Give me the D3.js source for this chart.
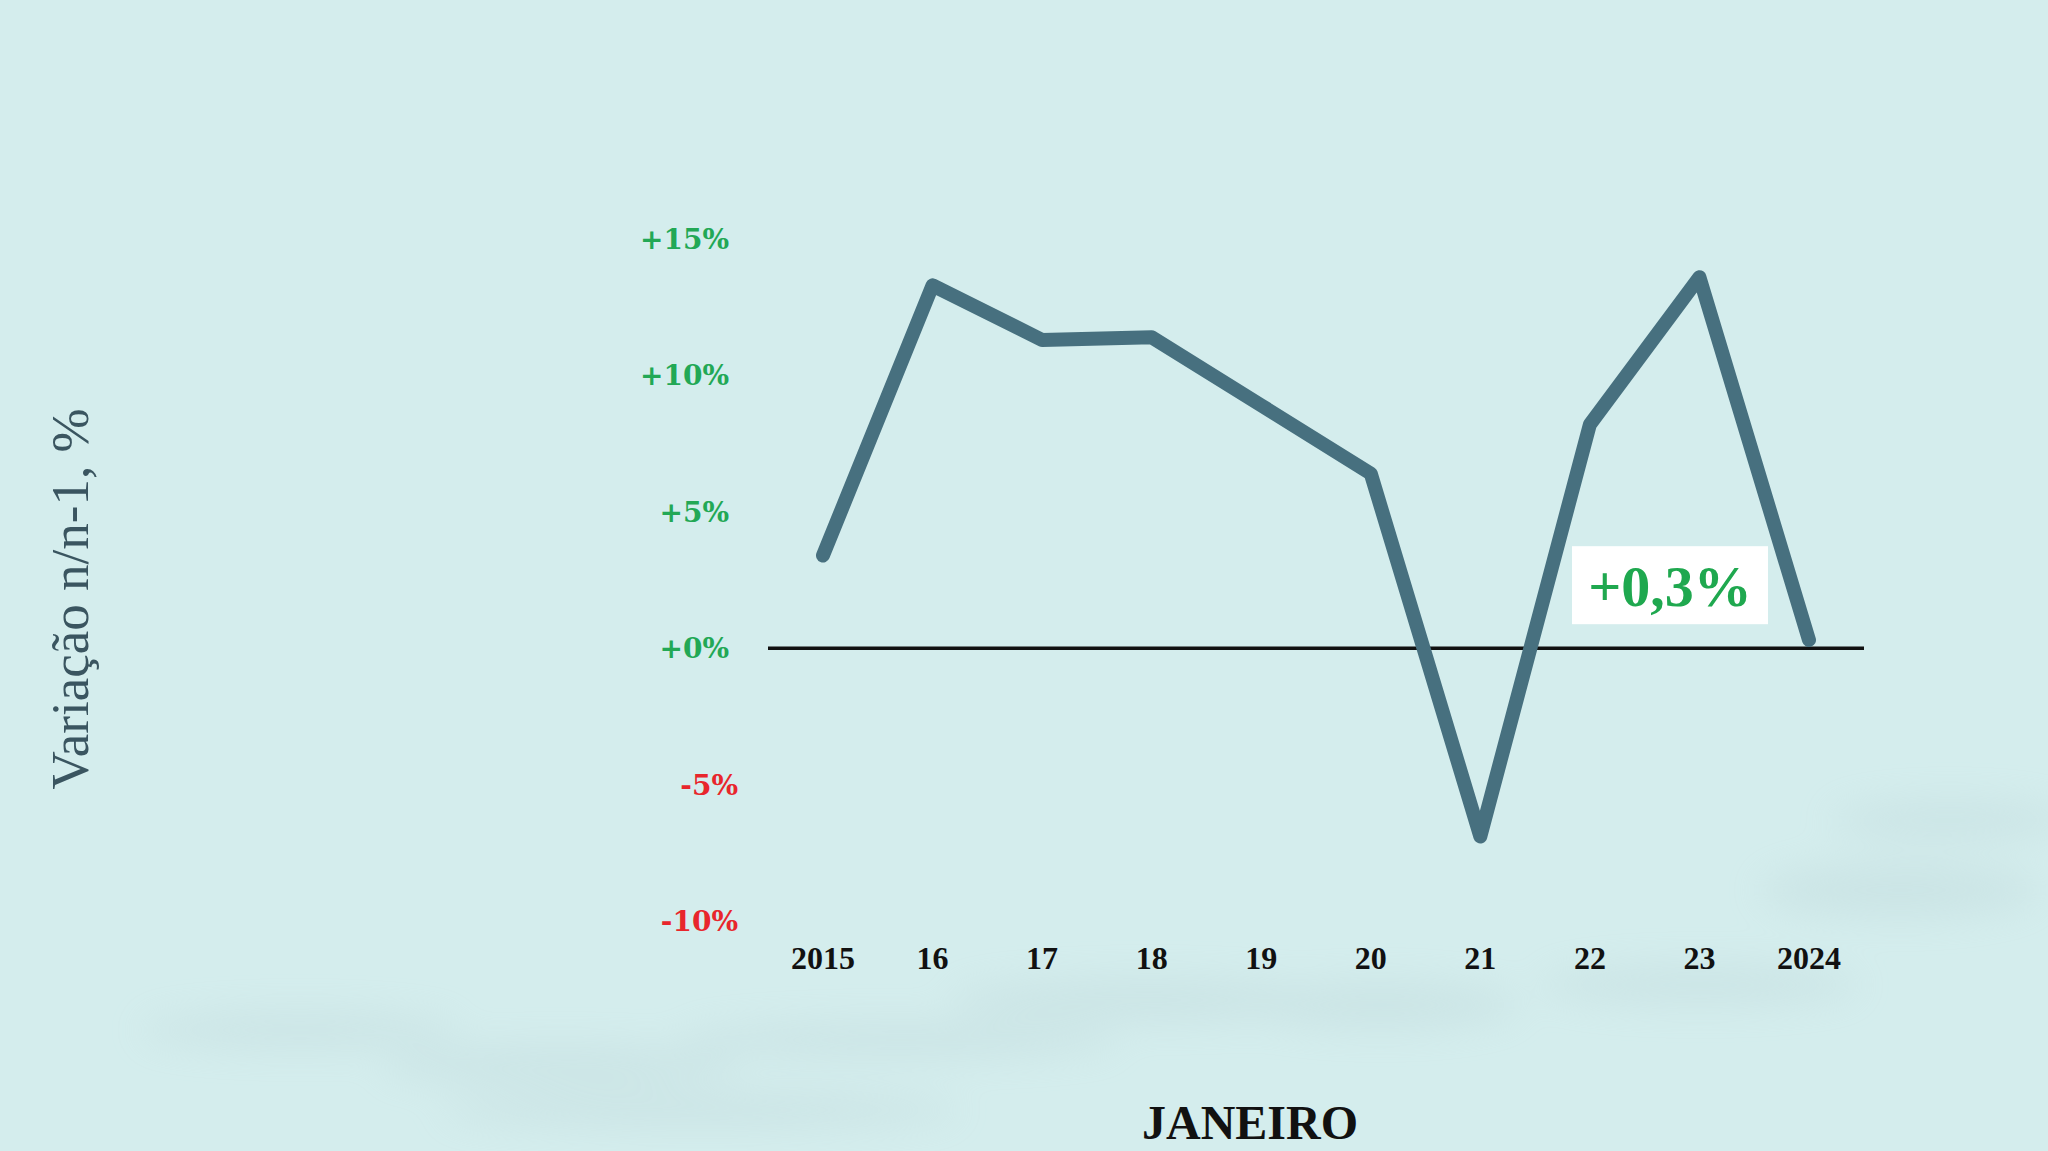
<!DOCTYPE html>
<html>
<head>
<meta charset="utf-8">
<script src="https://cdn.jsdelivr.net/npm/d3@7"></script>
<style>
  html, body { margin: 0; padding: 0; background: #d4eded; }
  svg { display: block; }
</style>
</head>
<body>
<svg id="chart" width="2048" height="1151"></svg>
<script>
// ---- data ----
const years = [2015, 2016, 2017, 2018, 2019, 2020, 2021, 2022, 2023, 2024];
const yearLabels = ["2015", "16", "17", "18", "19", "20", "21", "22", "23", "2024"];
const values = [3.4, 13.3, 11.3, 11.4, 8.9, 6.4, -6.9, 8.2, 13.6, 0.3];
const yTicks = [15, 10, 5, 0, -5, -10];
const yTickLabels = ["+15%", "+10%", "+5%", "+0%", "-5%", "-10%"];
const annotationText = "+0,3%";
const yTitle = "Variação n/n-1, %";
const xTitle = "JANEIRO";

// ---- layout ----
const svg = d3.select("#chart");
const W = 2048, H = 1151;

const defs = svg.append("defs");
const blur = defs.append("filter").attr("id", "blur").attr("x", "-50%").attr("y", "-50%").attr("width", "200%").attr("height", "200%");
blur.append("feGaussianBlur").attr("stdDeviation", 18);
svg.append("rect").attr("width", W).attr("height", H).attr("fill", "#d4eded");
const shapes = svg.append("g").attr("filter", "url(#blur)").attr("opacity", 0.35);
[[300, 1030, 160, 18], [560, 1065, 180, 20], [900, 1040, 220, 18], [1150, 1000, 200, 22],
 [1380, 1005, 140, 24], [1700, 985, 160, 20], [1900, 890, 140, 28], [1950, 820, 120, 20], [700, 1110, 260, 18]]
  .forEach(s => shapes.append("ellipse").attr("cx", s[0]).attr("cy", s[1]).attr("rx", s[2]).attr("ry", s[3]).attr("fill", "#bcd6d8"));

const x = d3.scalePoint().domain(years).range([823, 1809]);
const y = d3.scaleLinear().domain([-10, 15]).range([921, 239]);

// zero line
svg.append("line")
  .attr("x1", 768).attr("x2", 1864)
  .attr("y1", y(0)).attr("y2", y(0))
  .attr("stroke", "#111").attr("stroke-width", 3.5);

// y tick labels
svg.append("g").selectAll("text")
  .data(yTicks)
  .join("text")
  .attr("x", d => d < 0 ? 738 : 729)
  .attr("y", d => y(d))
  .attr("dy", "0.36em")
  .attr("text-anchor", "end")
  .attr("font-family", "'DejaVu Serif', serif")
  .attr("font-weight", "bold")
  .attr("font-size", 28)
  .attr("fill", d => d < 0 ? "#e8262c" : "#22a855")
  .text((d, i) => yTickLabels[i]);

// x tick labels
svg.append("g").selectAll("text")
  .data(years)
  .join("text")
  .attr("x", d => x(d))
  .attr("y", 957)
  .attr("dy", "0.36em")
  .attr("text-anchor", "middle")
  .attr("font-family", "'Liberation Serif', serif")
  .attr("font-weight", "bold")
  .attr("font-size", 32)
  .attr("fill", "#111")
  .text((d, i) => yearLabels[i]);

// line
const line = d3.line().x((d, i) => x(years[i])).y(d => y(d));
svg.append("path")
  .datum(values)
  .attr("d", line)
  .attr("fill", "none")
  .attr("stroke", "#47707f")
  .attr("stroke-width", 14)
  .attr("stroke-linecap", "round")
  .attr("stroke-linejoin", "round");

// annotation box
const lastX = x(years[years.length - 1]);
const zeroY = y(0);
const ann = svg.append("g");
ann.append("rect")
  .attr("x", lastX - 237).attr("y", zeroY - 102)
  .attr("width", 196).attr("height", 78)
  .attr("fill", "#ffffff");
ann.append("text")
  .attr("x", lastX - 139).attr("y", zeroY - 63)
  .attr("dy", "0.36em")
  .attr("text-anchor", "middle")
  .attr("font-family", "'Liberation Serif', serif")
  .attr("font-weight", "bold")
  .attr("font-size", 58)
  .attr("fill", "#1fa84f")
  .text(annotationText);

// y title
svg.append("text")
  .attr("transform", "translate(88,599) rotate(-90)")
  .attr("text-anchor", "middle")
  .attr("font-family", "'Liberation Serif', serif")
  .attr("font-size", 53)
  .attr("fill", "#3a5560")
  .text(yTitle);

// x title
svg.append("text")
  .attr("x", 1250).attr("y", 1139)
  .attr("text-anchor", "middle")
  .attr("font-family", "'Liberation Serif', serif")
  .attr("font-weight", "bold")
  .attr("font-size", 48)
  .attr("fill", "#111")
  .text(xTitle);
</script>
</body>
</html>
